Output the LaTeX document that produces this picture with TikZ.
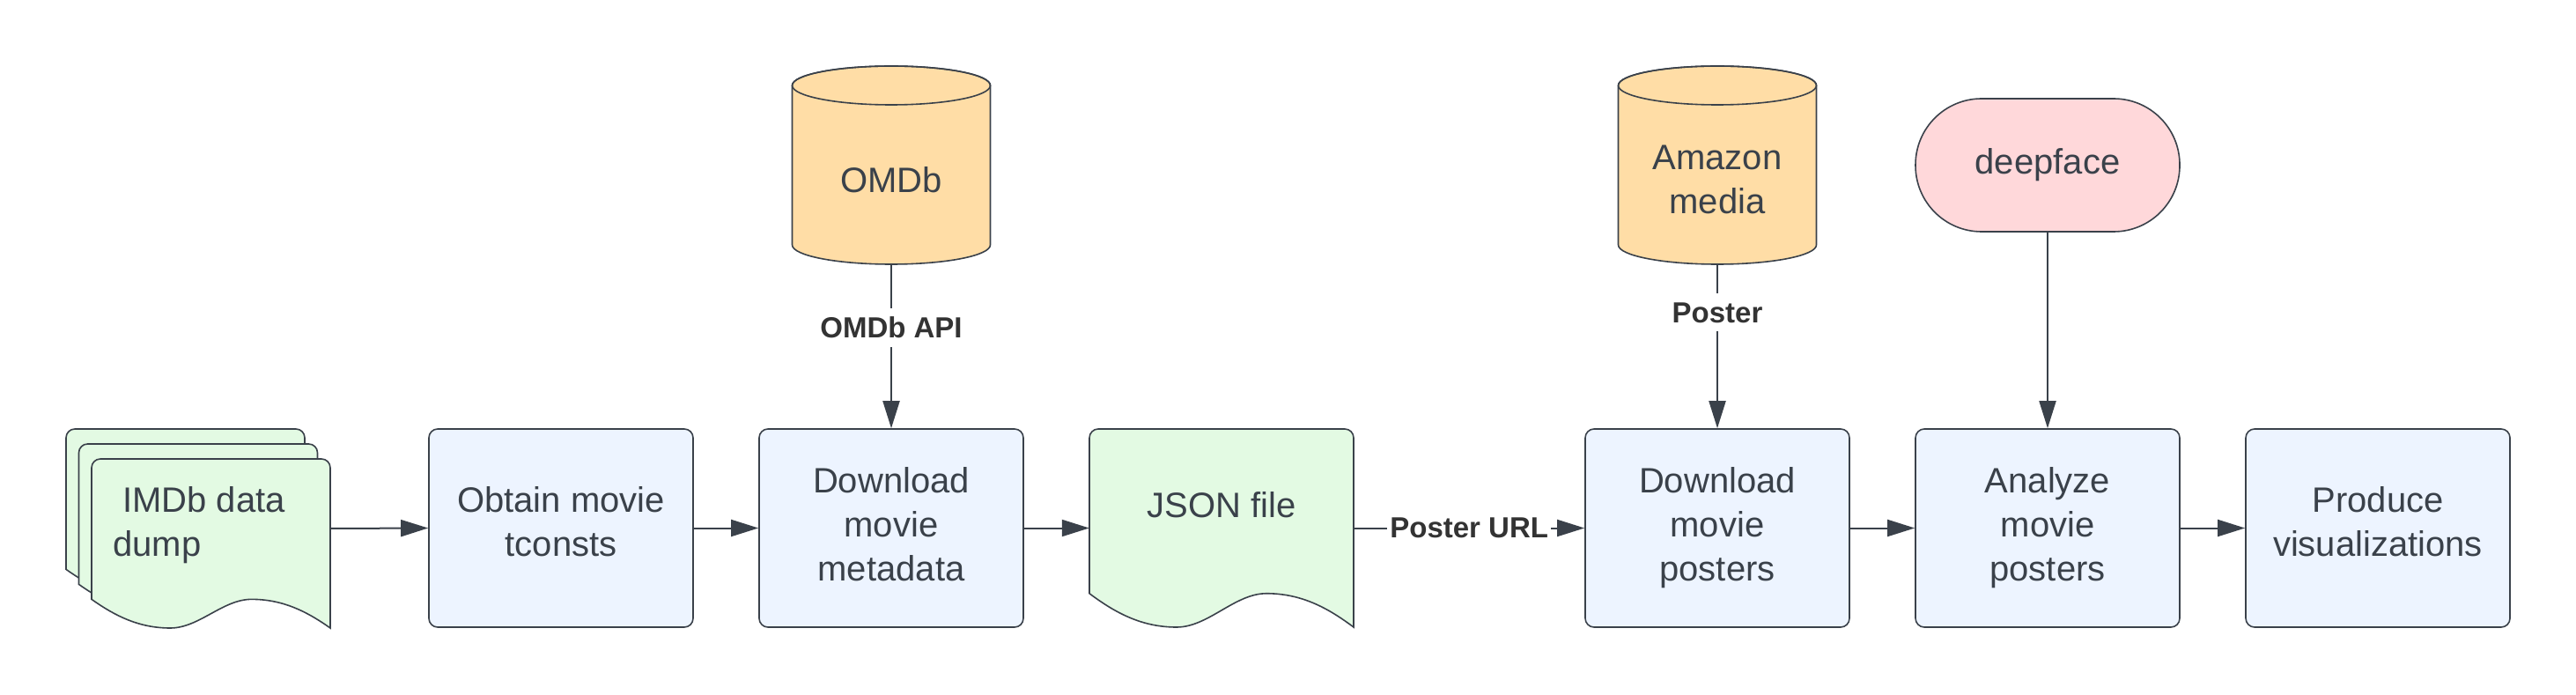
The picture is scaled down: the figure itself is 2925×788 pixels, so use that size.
\documentclass[tikz,border=0pt]{standalone}
\usepackage{fontspec}
\setmainfont{Liberation Sans}
\usetikzlibrary{arrows.meta}
\definecolor{ink}{HTML}{3A414A}
\definecolor{lbl}{HTML}{333333}
\definecolor{boxblue}{HTML}{EDF4FF}
\definecolor{docgreen}{HTML}{E3FAE3}
\definecolor{dborange}{HTML}{FFDDA6}
\definecolor{termpink}{HTML}{FFD8DA}
\newcommand\lowstrut[1]{\rule[-#1]{0pt}{#1}}
% document shape: #1,#2 = top-left corner, #3 = width, #4 = height
\newcommand\docshape[4]{%
  \begin{scope}[shift={(#1,#2)},x=#3pt,y=#4pt]
    \filldraw[draw=ink, line width=1.6pt, fill=docgreen]
      (0,-0.83) -- ([yshift=-10pt]0,0) arc[start angle=180, end angle=90, radius=10pt]
      -- ([xshift=-10pt]1,0) arc[start angle=90, end angle=0, radius=10pt]
      -- (1,-1) .. controls (0.9,-0.9) and (0.8,-0.83) .. (0.67,-0.83)
      .. controls (0.55,-0.83) and (0.45,-1) .. (0.33,-1)
      .. controls (0.2,-1) and (0.1,-0.93) .. (0,-0.83) -- cycle;
  \end{scope}}
% cylinder: #1 = centre x
\newcommand\cylshape[1]{%
  \filldraw[draw=ink, line width=1.6pt, fill=dborange]
    (#1-112.5,691) -- (#1-112.5,510)
    arc[start angle=180, end angle=360, x radius=112.5pt, y radius=22pt]
    -- (#1+112.5,691)
    arc[start angle=0, end angle=180, x radius=112.5pt, y radius=22pt] -- cycle;
  \draw[draw=ink, line width=1.6pt] (#1,691) ellipse[x radius=112.5pt, y radius=22pt];}
\begin{document}
\begin{tikzpicture}[x=1pt,y=1pt,
  txt/.style={font=\fontsize{40pt}{50pt}\selectfont, text=ink, align=center},
  procbox/.style={txt, draw=ink, line width=1.6pt, fill=boxblue, rounded corners=10pt,
    minimum width=300pt, minimum height=225pt, inner sep=0pt},
  frame/.style={inner sep=0pt, minimum width=#1},
  conn/.style={draw=ink, line width=2pt, -{Triangle[length=31pt,width=19pt]}},
  lab/.style={font=\fontsize{33pt}{40pt}\selectfont\bfseries, text=lbl, fill=white,
    inner xsep=3pt, inner ysep=10pt}]
\useasboundingbox (0,0) rectangle (2925,788);

% IMDb stacked documents
\docshape{75}{301}{271}{192}
\docshape{89.5}{284}{271}{192}
\docshape{104}{267}{271}{192}
\node[frame=300pt, minimum height=226pt] (imdb) at (225,188) {};
\node[txt, align=left, anchor=west, inner sep=0pt] (imdbtext) at (128,192) {\hspace*{0.278em}IMDb data\\dump};

% JSON document
\docshape{1237}{301}{300}{225}
\node[frame=300pt, minimum height=225pt] (json) at (1387,188.5) {};
\node[txt] (jsontext) at (1387,215) {JSON file};

% process boxes
\node[procbox] (obtain)  at (637,188.5)  {Obtain movie\\tconsts\lowstrut{15pt}};
\node[procbox] (dlmeta)  at (1012,188.5) {Download\\movie\\metadata\lowstrut{8pt}};
\node[procbox] (dlpost)  at (1950,188.5) {Download\\movie\\posters};
\node[procbox] (analyze) at (2325,188.5) {Analyze\\movie\\posters};
\node[procbox] (produce) at (2700,188.5) {Produce\\visualizations\lowstrut{15pt}};

% databases
\cylshape{1012}
\node[frame=225pt, minimum height=225pt] (omdb) at (1012,600.5) {};
\node[txt] (omdbtext) at (1012,584) {OMDb};
\cylshape{1950}
\node[frame=225pt, minimum height=225pt] (amazon) at (1950,600.5) {};
\node[txt] (amazontext) at (1950,584) {Amazon\\media};

% terminator
\node[txt, draw=ink, fill=termpink, line width=1.6pt, rounded corners=75pt,
  minimum width=300pt, minimum height=151pt, inner sep=0pt] (deepface) at (2325,600.5) {deepface};

% connectors
\draw[conn] (imdb.east) -- (obtain.west);
\draw[conn] (obtain.east) -- (dlmeta.west);
\draw[conn] (dlmeta.east) -- (json.west);
\draw[conn] (json.east) -- node[lab] (lposterurl) {Poster URL} (dlpost.west);
\draw[conn] (dlpost.east) -- (analyze.west);
\draw[conn] (analyze.east) -- (produce.west);
\draw[conn] (omdb.south) -- node[lab, pos=0.385] (lomdbapi) {OMDb API} (dlmeta.north);
\draw[conn] (amazon.south) -- node[lab, pos=0.294] (lposter) {Poster} (dlpost.north);
\draw[conn] (deepface.south) -- (analyze.north);
\end{tikzpicture}
\end{document}
